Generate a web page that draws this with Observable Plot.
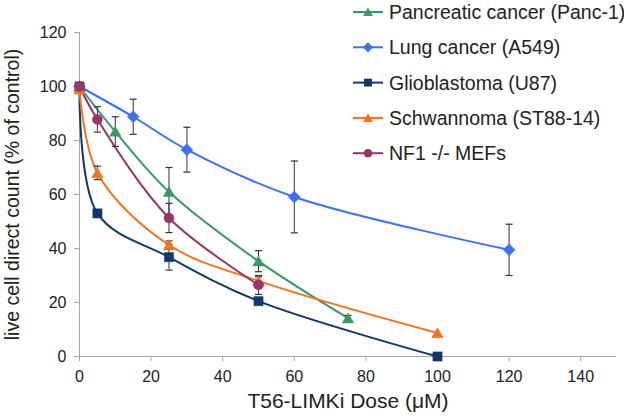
<!DOCTYPE html>
<html>
<head>
<meta charset="utf-8">
<script src="https://cdn.jsdelivr.net/npm/d3@7"></script>
<script src="https://cdn.jsdelivr.net/npm/@observablehq/plot@0.6"></script>
<style>
  html, body { margin: 0; padding: 0; background: #fff; }
  #chart { position: relative; width: 624px; height: 419px; }
</style>
</head>
<body>
<div id="chart"></div>
<script>
// ---- data ----
const seriesNames = ["Pancreatic cancer (Panc-1)", "Lung cancer (A549)", "Glioblastoma (U87)", "Schwannoma (ST88-14)", "NF1 -/- MEFs"];
const seriesColors = ["#3a9a66", "#3d72f2", "#12386a", "#f27321", "#983468"];
const seriesSymbols = ["triangle", "diamond", "square", "triangle", "circle"];

const pancDose = [0, 10, 25, 50, 75];
const pancValue = [100, 83.3, 61, 35.3, 14.2];
const pancErr = [0, 5.5, 9, 3.9, 1];

const lungDose = [0, 15, 30, 60, 120];
const lungValue = [100, 88.8, 76.6, 59.1, 39.5];
const lungErr = [0, 6.5, 8.3, 13.3, 9.5];

const glioDose = [0, 5, 25, 50, 100];
const glioValue = [100, 53, 36.8, 20.5, 0];
const glioErr = [0, 1, 4.8, 1, 0];

const schwDose = [0, 5, 25, 50, 100];
const schwValue = [99, 68, 41.3, 28, 8.7];
const schwErr = [0, 2.5, 1.5, 1.5, 0];

const mefDose = [0, 5, 25, 50];
const mefValue = [100, 87.8, 51.3, 26.5];
const mefErr = [0, 4.7, 5.4, 3.5];

const xTicks = [0, 20, 40, 60, 80, 100, 120, 140];
const yTicks = [0, 20, 40, 60, 80, 100, 120];
const xLabel = "T56-LIMKi Dose (\u03bcM)";
const yLabel = "live cell direct count (% of control)";

// ---- build table ----
const doses = [pancDose, lungDose, glioDose, schwDose, mefDose];
const values = [pancValue, lungValue, glioValue, schwValue, mefValue];
const errs = [pancErr, lungErr, glioErr, schwErr, mefErr];
const series = seriesNames.map((name, i) => ({
  name, color: seriesColors[i], symbol: seriesSymbols[i],
  data: doses[i].map((d, j) => ({dose: d, value: values[i][j], lo: values[i][j] - errs[i][j], hi: values[i][j] + errs[i][j], err: errs[i][j]}))
}));

// ---- custom symbols (size = pi r^2) ----
const symbols = {
  triangle: {draw(ctx, size) { const r = Math.sqrt(size / Math.PI); ctx.moveTo(0, -1.05 * r); ctx.lineTo(1.15 * r, 0.95 * r); ctx.lineTo(-1.15 * r, 0.95 * r); ctx.closePath(); }},
  diamond: {draw(ctx, size) { const r = Math.sqrt(size / Math.PI) * 1.2; ctx.moveTo(0, -r); ctx.lineTo(r, 0); ctx.lineTo(0, r); ctx.lineTo(-r, 0); ctx.closePath(); }},
  square: {draw(ctx, size) { const r = Math.sqrt(size / Math.PI) * 0.92; ctx.rect(-r, -r, 2 * r, 2 * r); }},
  circle: {draw(ctx, size) { const r = Math.sqrt(size / Math.PI); ctx.moveTo(r, 0); ctx.arc(0, 0, r, 0, 2 * Math.PI); }}
};
const capSymbol = {draw(ctx, size) { ctx.moveTo(-3.5, 0); ctx.lineTo(3.5, 0); }};

const marks = [
  Plot.ruleY([0], {stroke: "#a6a6a6"}),
  Plot.ruleX([0], {stroke: "#a6a6a6"}),
  Plot.axisX({ticks: xTicks, tickSize: 5, tickPadding: 9, fontSize: 16, stroke: "#a6a6a6", fill: "#222", label: null}),
  Plot.axisY({ticks: yTicks, tickSize: 5, tickPadding: 8, fontSize: 16, stroke: "#a6a6a6", fill: "#222", label: null}),
  Plot.text([xLabel], {frameAnchor: "bottom", textAnchor: "middle", dy: 51, fontSize: 21, fill: "#222"}),
  Plot.text([yLabel], {frameAnchor: "left", textAnchor: "middle", rotate: -90, dx: -67, fontSize: 19.5, fill: "#222"})
];
for (const s of series) {
  marks.push(Plot.line(s.data, {x: "dose", y: "value", stroke: s.color, strokeWidth: 2, curve: "catmull-rom"}));
}
for (const s of series) {
  const withErr = s.data.filter(d => d.err > 0);
  marks.push(Plot.ruleX(withErr, {x: "dose", y1: "lo", y2: "hi", stroke: "#333", strokeWidth: 1}));
  marks.push(Plot.dot(withErr, {x: "dose", y: "lo", symbol: capSymbol, stroke: "#333", strokeWidth: 1.2, r: 3}));
  marks.push(Plot.dot(withErr, {x: "dose", y: "hi", symbol: capSymbol, stroke: "#333", strokeWidth: 1.2, r: 3}));
}
for (const s of series) {
  marks.push(Plot.dot(s.data, {x: "dose", y: "value", symbol: symbols[s.symbol], fill: s.color, stroke: s.color, strokeWidth: 0.5, r: 5}));
}

const plot = Plot.plot({
  width: 624, height: 419,
  marginLeft: 79, marginRight: 8, marginTop: 32, marginBottom: 63,
  x: {domain: [0, 150]},
  y: {domain: [0, 120]},
  style: {fontFamily: "'Liberation Sans', Arial, sans-serif", background: "#fff", overflow: "visible"},
  marks
});
document.getElementById("chart").appendChild(plot);

// ---- legend (inside the svg, top right) ----
const svg = d3.select(plot);
const lg = svg.append("g").attr("font-family", "'Liberation Sans', Arial, sans-serif").attr("text-anchor", "start");
series.forEach((s, i) => {
  const y = 12 + i * 35.3;
  const g = lg.append("g").attr("transform", `translate(0,${y})`);
  g.append("line").attr("x1", 353).attr("x2", 383).attr("y1", 0).attr("y2", 0).attr("stroke", s.color).attr("stroke-width", 2);
  const p = d3.path();
  symbols[s.symbol].draw(p, Math.PI * 4.3 * 4.3);
  g.append("path").attr("d", p.toString()).attr("transform", "translate(368,0)").attr("fill", s.color);
  g.append("text").attr("x", 389).attr("y", 0).attr("dy", "0.36em").attr("font-size", 19.5).attr("fill", "#222").attr("text-anchor", "start").text(s.name);
});
</script>
</body>
</html>
